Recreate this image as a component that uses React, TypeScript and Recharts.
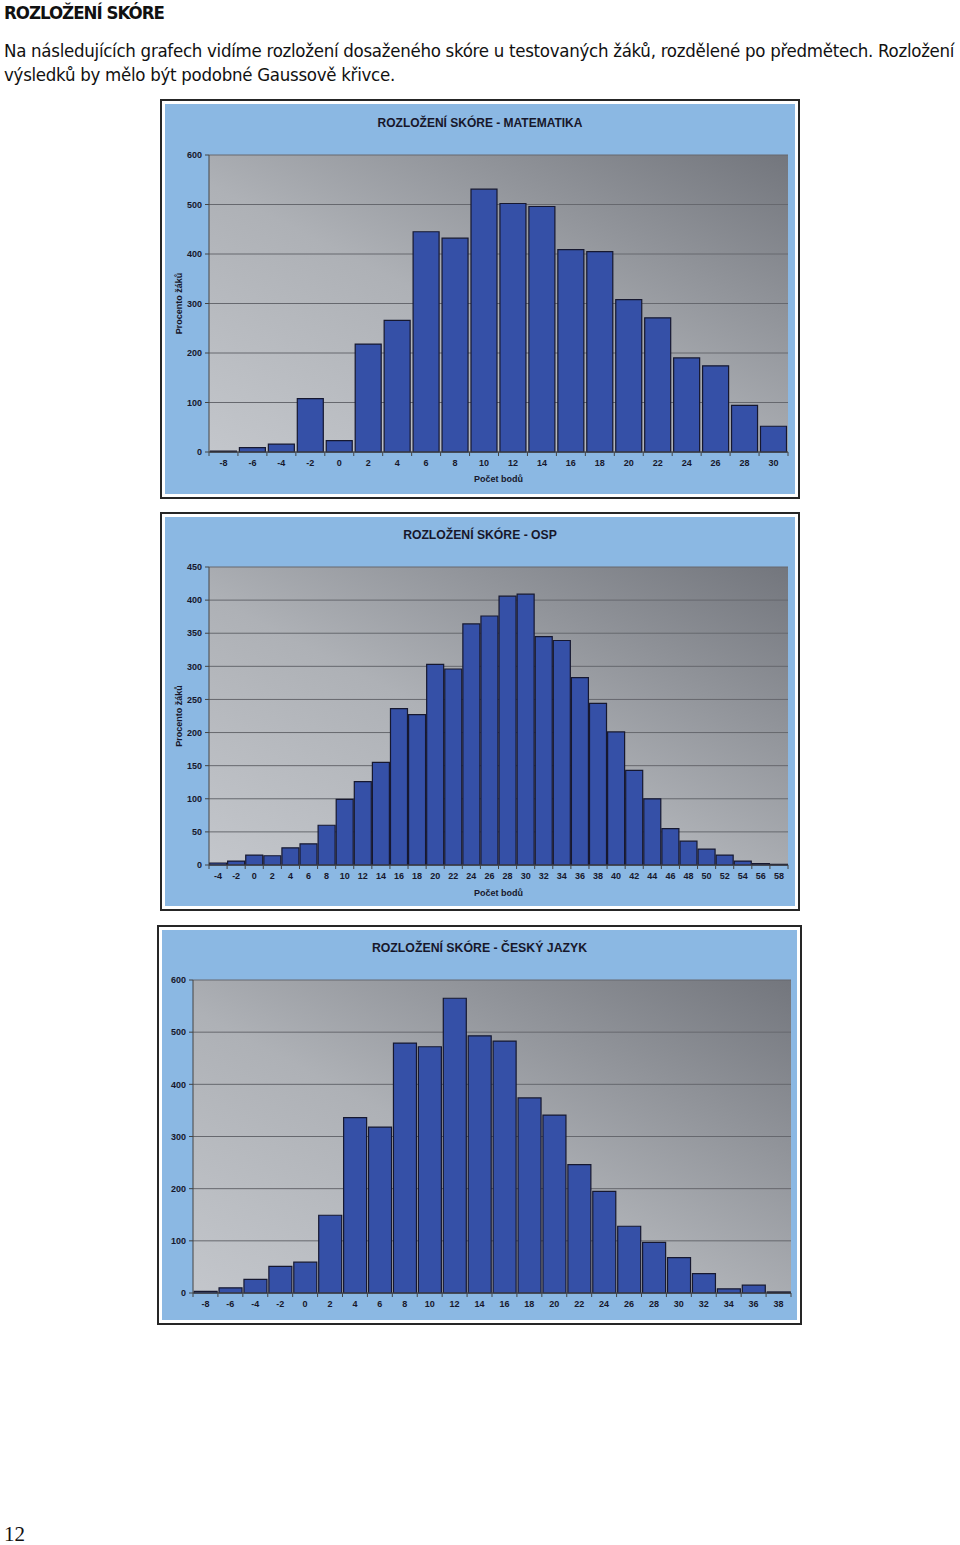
import { BarChart, Bar, XAxis, YAxis, CartesianGrid } from 'recharts';

// Matematika
const mathScores = [-8, -6, -4, -2, 0, 2, 4, 6, 8, 10, 12, 14, 16, 18, 20, 22, 24, 26, 28, 30];
const mathCounts = [2, 9, 16, 108, 23, 218, 266, 445, 432, 531, 502, 496, 409, 405, 308, 271, 190, 174, 94, 52];
const mathTicks = [0, 100, 200, 300, 400, 500, 600];

// OSP
const ospScores = [
  -4, -2, 0, 2, 4, 6, 8, 10, 12, 14, 16, 18, 20, 22, 24, 26, 28, 30, 32, 34, 36, 38, 40, 42, 44, 46, 48, 50, 52, 54,
  56, 58,
];
const ospCounts = [
  3, 6, 15, 14, 26, 32, 60, 99, 126, 155, 236, 227, 303, 296, 364, 376, 406, 409, 345, 339, 283, 244, 201, 143, 100,
  55, 36, 24, 15, 6, 2, 1,
];
const ospTicks = [0, 50, 100, 150, 200, 250, 300, 350, 400, 450];

// Český jazyk
const cjScores = [-8, -6, -4, -2, 0, 2, 4, 6, 8, 10, 12, 14, 16, 18, 20, 22, 24, 26, 28, 30, 32, 34, 36, 38];
const cjCounts = [3, 10, 26, 51, 59, 149, 336, 318, 479, 472, 565, 493, 483, 374, 341, 246, 195, 128, 97, 68, 37, 8, 15, 2];
const cjTicks = [0, 100, 200, 300, 400, 500, 600];

const FONT = '"Liberation Sans", Arial, sans-serif';
const INK = '#17172b';
const PANEL = '#8bb8e3';
const BAR_FILL = '#3550a7';
const BAR_STROKE = '#161830';

type PanelProps = {
  id: string;
  title: string;
  titleSize: number;
  titleTop: number;
  scores: number[];
  counts: number[];
  ticks: number[];
  left: number;
  top: number;
  width: number;
  height: number;
  marginTop: number;
  marginRight: number;
  yAxisWidth: number;
  xAxisHeight: number;
  gap: string;
  showAxisTitles: boolean;
  xTitleOffset?: number;
};

function makeTick(halfBand: number, count: number) {
  return (props: any) => {
    const { x, y, payload, index } = props;
    return (
      <g>
        <line x1={x - halfBand} x2={x - halfBand} y1={y} y2={y + 4} stroke="#444" />
        {index === count - 1 && <line x1={x + halfBand} x2={x + halfBand} y1={y} y2={y + 4} stroke="#444" />}
        <text x={x} y={y + 8} dy="0.71em" textAnchor="middle" fontSize={9} fontWeight="bold" fill={INK} fontFamily={FONT}>
          {payload.value}
        </text>
      </g>
    );
  };
}

function ScorePanel(p: PanelProps) {
  const data = p.scores.map((s, i) => ({ score: String(s), count: p.counts[i] }));
  const plotWidth = p.width - p.yAxisWidth - p.marginRight;
  const halfBand = plotWidth / p.scores.length / 2;
  const max = p.ticks[p.ticks.length - 1];

  return (
    <div
      style={{
        position: 'absolute',
        left: p.left,
        top: p.top,
        border: '2px solid #262626',
        padding: 3,
        background: '#fff',
      }}
    >
      <div style={{ position: 'relative', width: p.width, height: p.height, background: PANEL }}>
        <div
          style={{
            position: 'absolute',
            left: 0,
            right: 0,
            top: p.titleTop,
            textAlign: 'center',
            fontFamily: FONT,
            fontWeight: 'bold',
            fontSize: p.titleSize,
            lineHeight: '14px',
            color: INK,
          }}
        >
          {p.title}
        </div>
        <BarChart
          width={p.width}
          height={p.height}
          data={data}
          margin={{ top: p.marginTop, right: p.marginRight, bottom: 0, left: 0 }}
          barCategoryGap={p.gap}
        >
          <defs>
            <linearGradient id={p.id} x1="0" y1="1" x2="1" y2="0">
              <stop offset="0%" stopColor="#c3c6cb" />
              <stop offset="45%" stopColor="#aeb1b6" />
              <stop offset="100%" stopColor="#73767d" />
            </linearGradient>
          </defs>
          <CartesianGrid vertical={false} stroke="#66686e" fill={`url(#${p.id})`} fillOpacity={1} />
          <XAxis
            dataKey="score"
            interval={0}
            height={p.xAxisHeight}
            tickSize={0}
            tickMargin={0}
            tickLine={false}
            axisLine={{ stroke: '#444' }}
            tick={makeTick(halfBand, p.scores.length)}
            label={
              p.showAxisTitles
                ? {
                    value: 'Počet bodů',
                    position: 'insideBottom',
                    offset: p.xTitleOffset ?? 10,
                    style: { fontSize: 9, fontWeight: 'bold', fill: INK, fontFamily: FONT },
                  }
                : undefined
            }
          />
          <YAxis
            width={p.yAxisWidth}
            domain={[0, max]}
            ticks={p.ticks}
            interval={0}
            tickSize={4}
            tickMargin={3}
            axisLine={{ stroke: '#444' }}
            tickLine={{ stroke: '#444' }}
            tick={{ fontSize: 9, fontWeight: 'bold', fill: INK, fontFamily: FONT }}
            label={
              p.showAxisTitles
                ? {
                    value: 'Procento žáků',
                    angle: -90,
                    position: 'insideLeft',
                    offset: 14,
                    style: { textAnchor: 'middle', fontSize: 9, fontWeight: 'bold', fill: INK, fontFamily: FONT },
                  }
                : undefined
            }
          />
          <Bar dataKey="count" fill={BAR_FILL} stroke={BAR_STROKE} strokeWidth={1.2} isAnimationActive={false} />
        </BarChart>
      </div>
    </div>
  );
}

const TEXT_FONT = '"Liberation Sans Narrow", "DejaVu Sans Condensed", "Roboto Condensed", sans-serif';

export default function App() {
  return (
    <div style={{ position: 'absolute', left: 0, top: 0, width: 960, height: 1545, background: '#fff', overflow: 'hidden' }}>
      <div
        style={{
          position: 'absolute',
          left: 4,
          top: 1,
          fontFamily: TEXT_FONT,
          fontSize: 18.5,
          letterSpacing: -1,
          lineHeight: '24px',
          fontWeight: 'bold',
          color: '#111',
          whiteSpace: 'nowrap',
        }}
      >
        ROZLOŽENÍ SKÓRE
      </div>
      <div
        style={{
          position: 'absolute',
          left: 4,
          top: 39,
          fontFamily: TEXT_FONT,
          fontSize: 18.5,
          letterSpacing: -0.28,
          lineHeight: '24px',
          color: '#111',
          whiteSpace: 'nowrap',
        }}
      >
        Na následujících grafech vidíme rozložení dosaženého skóre u testovaných žáků, rozdělené po předmětech. Rozložení
        <br />
        výsledků by mělo být podobné Gaussově křivce.
      </div>

      <ScorePanel
        id="bgMath"
        title="ROZLOŽENÍ SKÓRE - MATEMATIKA"
        titleSize={12}
        titleTop={12}
        scores={mathScores}
        counts={mathCounts}
        ticks={mathTicks}
        left={160}
        top={99}
        width={630}
        height={390}
        marginTop={51}
        marginRight={7}
        yAxisWidth={44}
        xAxisHeight={42}
        gap="5%"
        showAxisTitles
        xTitleOffset={12}
      />

      <ScorePanel
        id="bgOsp"
        title="ROZLOŽENÍ SKÓRE - OSP"
        titleSize={12.2}
        titleTop={11}
        scores={ospScores}
        counts={ospCounts}
        ticks={ospTicks}
        left={160}
        top={512}
        width={630}
        height={389}
        marginTop={50}
        marginRight={7}
        yAxisWidth={44}
        xAxisHeight={41}
        gap="3%"
        showAxisTitles
        xTitleOffset={10}
      />

      <ScorePanel
        id="bgCj"
        title="ROZLOŽENÍ SKÓRE - ČESKÝ JAZYK"
        titleSize={12.3}
        titleTop={11}
        scores={cjScores}
        counts={cjCounts}
        ticks={cjTicks}
        left={157}
        top={925}
        width={635}
        height={390}
        marginTop={50}
        marginRight={6}
        yAxisWidth={31}
        xAxisHeight={27}
        gap="4.5%"
        showAxisTitles={false}
      />

      <div
        style={{
          position: 'absolute',
          left: 4,
          top: 1524,
          fontFamily: '"Liberation Serif", serif',
          fontSize: 21,
          lineHeight: '20px',
          color: '#111',
        }}
      >
        12
      </div>
    </div>
  );
}
